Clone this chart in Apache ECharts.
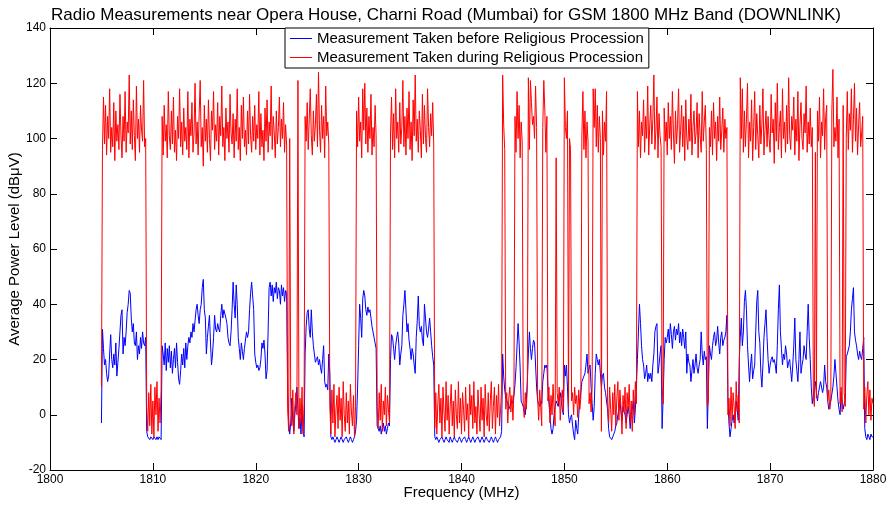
<!DOCTYPE html>
<html><head><meta charset="utf-8">
<script src="https://cdn.jsdelivr.net/npm/echarts@6/dist/echarts.min.js"></script>
<style>html,body{margin:0;padding:0;background:#fff}#c{width:892px;height:505px}</style>
</head><body><div id="c"></div>
<script>
// sampling grid of the sweep (MHz)
const FREQ_START = 1805.0;
const FREQ_STEP = 0.1;

const titleText = 'Radio Measurements near Opera House, Charni Road (Mumbai) for GSM 1800 MHz Band (DOWNLINK)';
const seriesNames = ['Measurement Taken before Religious Procession', 'Measurement Taken during Religious Procession'];
const xTickRange = [1800, 1880, 10];
const yTickRange = [-20, 140, 20];

// Measurement before procession (dBµV), one row per MHz starting at 1805.0
const beforeValues = [
-3,31,24,18,20,15,12,14,22,29,
20,17,22,18,26,14,19,24,30,36,
38,22,28,25,30,37,40,45,44,35,
30,33,26,25,30,20,25,22,28,24,
30,26,25,28,-6,-8,-8,-9,-8,-8,
-9,-8,-8,-9,-8,-9,-8,-8,-9,25,
22,18,26,16,24,19,25,17,23,15,
20,24,17,26,19,13,11,16,22,18,
24,17,26,20,25,28,26,30,28,33,
30,34,38,40,36,33,38,40,46,49,
38,35,22,28,32,36,26,18,22,28,
36,31,30,33,31,30,36,40,35,38,
38,35,33,28,26,25,30,38,48,40,
35,47,40,28,24,20,26,23,20,24,
24,30,28,30,38,44,48,43,38,22,
19,17,18,16,17,20,26,24,27,22,
13,16,30,46,48,43,47,41,46,44,
48,42,46,45,40,47,43,46,41,45,
44,8,-2,-7,-3,6,-2,-6,0,4,
10,2,-5,-1,-7,3,-6,-8,22,32,
37,38,31,28,38,30,25,22,19,20,
21,18,20,17,15,20,25,12,10,11,
9,22,15,-8,-9,-8,-9,-10,-9,-8,
-9,-10,-9,-8,-9,-10,-9,-9,-8,-9,
-10,-9,-8,-9,-10,-9,-8,-6,-2,10,
25,40,35,28,42,45,43,38,36,39,
37,38,35,32,30,28,26,24,-4,-5,
-6,-4,-7,-5,-3,-6,-4,-7,-5,-3,
-4,20,29,28,24,20,25,28,30,26,
18,22,25,36,40,45,38,30,33,27,
24,20,24,22,18,15,28,34,43,32,
30,32,27,25,40,35,30,28,31,35,
30,25,21,18,-8,-9,-8,-9,-10,-9,
-9,-8,-9,-10,-9,-8,-9,-9,-10,-8,
-9,-10,-9,-8,-9,-9,-10,-9,-8,-9,
-10,-9,-9,-8,-9,-10,-9,-8,-9,-10,
-9,-8,-9,-10,-9,-9,-8,-9,-10,-9,
-8,-9,-10,-9,-8,-9,-9,-10,-9,-8,
-9,-10,-9,-8,-9,-10,-9,-9,-8,-6,
22,14,9,6,5,4,2,3,5,4,
5,7,11,17,25,33,26,17,5,4,
3,1,0,5,12,22,30,24,20,24,
27,26,18,10,5,4,3,5,4,12,
15,18,17,18,10,4,0,-5,-7,-5,
0,3,5,4,3,6,8,5,2,0,
18,14,18,10,0,-3,-1,0,-4,-7,
-9,-2,-5,-7,0,5,8,12,12,14,
15,18,22,15,17,18,10,4,-2,3,
15,22,20,18,20,15,10,14,15,10,
8,5,2,-5,-8,-8,-9,-8,-7,-6,
-4,-3,0,2,5,1,-2,3,1,0,
-3,0,3,0,-5,0,2,5,-3,2,
10,20,30,40,33,25,20,18,13,15,
18,12,15,13,15,12,18,22,30,32,
33,15,18,22,25,-5,6,20,28,26,
28,31,26,33,29,24,30,32,27,31,
29,33,26,30,25,31,28,24,30,15,
22,19,18,12,16,20,15,18,22,17,
15,18,20,30,22,18,23,20,21,-5,
10,25,22,20,25,28,30,25,27,32,
26,22,28,30,25,27,28,30,36,5,
-3,-8,-5,-2,0,-3,-1,5,2,-2,
20,28,35,25,30,41,45,38,25,18,
12,18,22,13,16,18,30,41,45,30,
26,15,10,18,28,33,38,28,20,15,
18,20,21,19,20,18,15,25,38,47,
30,24,18,22,20,25,22,17,19,20,
16,12,18,25,35,20,16,12,20,30,
15,18,20,25,22,20,30,40,28,20,
10,4,7,10,12,8,5,8,10,12,
12,8,10,18,12,10,5,2,3,5,
5,10,14,20,15,10,5,2,0,8,
5,2,4,5,21,22,22,25,30,38,
42,46,30,27,25,22,20,23,21,20,
24,28,-5,-8,-9,-7,-8,-9,-7,-8,
-8
];

// Measurement during procession (dBµV), one row per MHz starting at 1805.0
const duringValues = [
10,96,115,98,112,94,108,100,118,95,
104,97,113,92,110,99,105,96,116,101,
93,108,99,117,95,106,102,123,98,110,
96,114,101,92,119,100,107,95,112,103,
99,121,97,100,3,-6,8,-4,11,-7,
5,-8,10,0,12,-6,6,-3,9,108,
94,112,99,105,93,117,101,96,110,98,
115,95,103,92,108,100,118,97,106,94,
111,99,104,96,117,93,107,101,113,95,
102,120,98,106,94,109,121,97,104,90,
112,99,107,95,114,100,92,110,103,117,
96,105,99,113,94,108,101,119,97,104,
92,111,100,106,95,116,102,98,109,93,
107,99,118,96,104,92,112,100,115,97,
103,94,110,98,116,101,95,108,99,112,
96,105,100,117,94,109,97,103,92,111,
99,114,95,106,101,119,96,108,102,93,
110,98,104,115,97,107,100,113,95,105,
98,2,-6,100,5,-4,9,-7,3,8,
0,121,-5,6,-3,10,-7,4,108,99,
113,96,107,118,101,94,110,99,105,116,
97,124,103,95,112,100,108,93,119,101,
106,98,4,-7,9,-3,11,-8,2,7,
-5,10,-2,6,-8,12,0,-6,8,-3,
5,-7,11,1,-4,7,-8,3,110,97,
115,99,106,93,118,103,120,98,111,95,
108,100,116,94,104,97,112,101,3,-5,
8,-2,11,-6,5,0,10,-4,7,2,
-3,102,115,96,109,93,118,100,106,95,
113,98,104,121,97,108,94,111,100,117,
96,106,92,114,101,123,99,107,95,110,
103,93,116,98,112,100,95,118,104,97,
109,101,113,98,-5,8,-7,4,11,-3,
6,-8,10,1,-6,12,-2,7,-7,3,
11,-4,5,-8,9,0,-5,12,-3,6,
-7,8,2,-6,10,-2,4,-8,11,0,
7,-5,12,-3,3,-7,9,1,-6,10,
-2,6,-8,11,0,-4,8,-6,5,12,
-5,3,10,-7,7,-1,11,-4,2,9,
123,105,96,2,8,-3,6,10,1,7,
-2,9,108,95,117,100,112,93,106,99,
4,-1,8,2,10,122,96,121,113,105,
108,100,119,104,6,-2,9,3,-4,104,
121,110,95,108,5,10,-3,7,0,11,
2,-4,93,8,4,10,-2,6,9,1,
122,104,100,110,3,100,96,5,8,0,
10,4,7,-1,9,2,6,101,117,96,
110,93,106,99,4,8,1,10,118,104,
118,97,112,95,108,100,-6,110,94,106,
99,117,5,-3,10,2,-6,8,0,11,
-4,6,12,-2,9,3,-7,7,1,10,
-5,8,2,11,-3,5,-6,9,0,12,
4,117,97,110,93,106,101,114,95,108,
100,119,94,105,112,98,107,123,96,103,
115,93,109,101,97,10,4,111,99,106,
94,113,100,108,96,117,102,91,110,98,
105,118,95,103,112,97,108,92,114,100,
96,107,99,116,94,104,110,98,102,113,
93,109,101,95,117,99,106,112,96,3,
5,104,97,110,94,113,100,106,92,108,
99,115,96,103,111,95,107,100,104,0,
6,-4,10,-2,8,3,-5,12,1,7,
-3,122,100,118,95,110,97,107,120,93,
106,99,114,92,104,117,96,109,101,93,
112,98,105,118,94,103,110,97,108,100,
95,116,102,107,91,113,99,120,96,104,
110,93,118,100,106,95,112,98,122,101,
96,108,103,115,94,107,99,117,92,105,
113,100,96,109,102,119,95,106,98,111,
97,104,7,3,95,6,110,99,115,93,
106,101,118,96,108,112,5,9,2,6,
110,125,97,104,99,115,93,107,4,10,
1,112,8,3,100,117,96,109,103,118,
95,107,120,99,111,94,105,113,97,102,
108,2,10,-3,7,12,0,9,-2,6,
4
];

const FONT = '"Liberation Sans", Arial, sans-serif';
const freqAt = i => Math.round((FREQ_START + i * FREQ_STEP) * 10) / 10;
const beforeData = beforeValues.map((v, i) => [freqAt(i), v]);
const duringData = duringValues.map((v, i) => [freqAt(i), v]);

const chart = echarts.init(document.getElementById('c'), null, {renderer: 'canvas'});
const axisLineStyle = {color: '#000', width: 1};
const tick = {show: true, inside: true, length: 7, lineStyle: {color: '#000', width: 1}};
const plain = v => String(v);
chart.setOption({
  animation: false,
  backgroundColor: '#fff',
  textStyle: {fontFamily: FONT},
  title: {
    text: titleText, left: 'center', top: 2,
    textStyle: {fontFamily: FONT, fontSize: 17, fontWeight: 'normal', color: '#000'}
  },
  grid: {left: 50, right: 19, top: 28, bottom: 35, containLabel: false, outerBoundsMode: 'none'},
  legend: {
    data: seriesNames, orient: 'vertical', left: 285, top: 28,
    backgroundColor: '#fff', borderColor: '#000', borderWidth: 1,
    padding: [3, 5, 3, 5], itemGap: 4, itemWidth: 22, itemHeight: 1, icon: 'rect',
    textStyle: {fontFamily: FONT, fontSize: 15, color: '#000'}, z: 10
  },
  xAxis: [{
    type: 'value', min: xTickRange[0], max: xTickRange[1], interval: xTickRange[2],
    position: 'bottom', name: 'Frequency (MHz)', nameLocation: 'middle', nameGap: 15,
    nameMoveOverlap: false,
    nameTextStyle: {fontFamily: FONT, fontSize: 15, color: '#000'},
    axisLine: {show: true, onZero: false, lineStyle: axisLineStyle}, axisTick: tick,
    axisLabel: {fontFamily: FONT, fontSize: 12, color: '#000', margin: 4, formatter: plain},
    splitLine: {show: false}
  }, {
    type: 'value', min: xTickRange[0], max: xTickRange[1], interval: xTickRange[2],
    position: 'top',
    axisLine: {show: true, onZero: false, lineStyle: axisLineStyle}, axisTick: tick,
    axisLabel: {show: false}, splitLine: {show: false}
  }],
  yAxis: [{
    type: 'value', min: yTickRange[0], max: yTickRange[1], interval: yTickRange[2],
    position: 'left', name: 'Average Power Level (dB\u03bcV)', nameLocation: 'middle', nameGap: 28,
    nameMoveOverlap: false,
    nameTextStyle: {fontFamily: FONT, fontSize: 15, color: '#000'},
    axisLine: {show: true, onZero: false, lineStyle: axisLineStyle}, axisTick: tick,
    axisLabel: {fontFamily: FONT, fontSize: 12, color: '#000', margin: 4, formatter: plain},
    splitLine: {show: false}
  }, {
    type: 'value', min: yTickRange[0], max: yTickRange[1], interval: yTickRange[2],
    position: 'right',
    axisLine: {show: true, onZero: false, lineStyle: axisLineStyle}, axisTick: tick,
    axisLabel: {show: false}, splitLine: {show: false}
  }],
  series: [{
    name: seriesNames[0], type: 'line', data: beforeData, xAxisIndex: 0, yAxisIndex: 0,
    symbol: 'none', lineStyle: {color: '#0000ff', width: 1}, itemStyle: {color: '#0000ff'}
  }, {
    name: seriesNames[1], type: 'line', data: duringData, xAxisIndex: 0, yAxisIndex: 0,
    symbol: 'none', lineStyle: {color: '#ff0000', width: 1}, itemStyle: {color: '#ff0000'}
  }]
});
</script>
</body></html>
